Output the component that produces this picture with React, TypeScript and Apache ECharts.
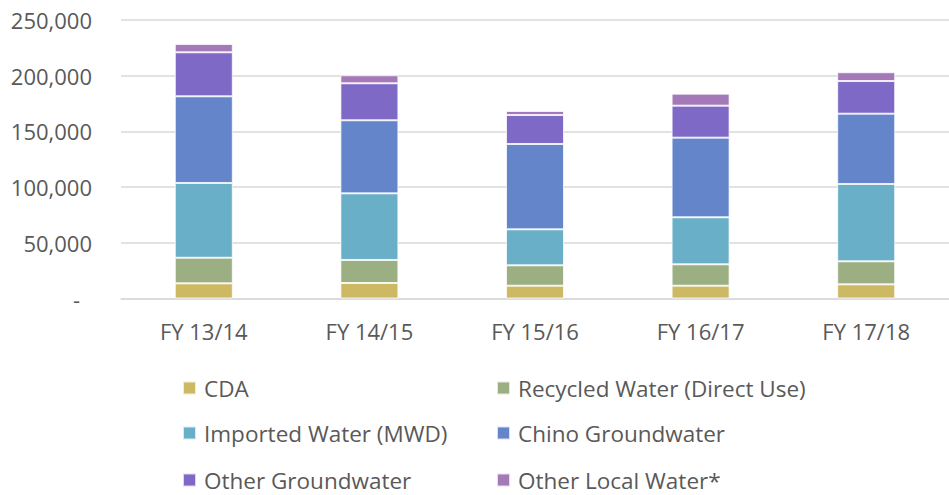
import React, { useEffect, useRef } from "react";
import * as echarts from "echarts";

const categories = ["FY 13/14", "FY 14/15", "FY 15/16", "FY 16/17", "FY 17/18"];
const cda = [13600, 13900, 11500, 11500, 12700];
const recycled = [23000, 20700, 18300, 19200, 20700];
const imported = [67100, 59800, 32300, 42200, 69400];
const chino = [77800, 65600, 76600, 71500, 63100];
const otherGw = [39500, 33200, 26000, 28700, 29300];
const otherLocal = [7500, 7200, 3600, 10800, 7900];

const seriesNames = [
  "CDA",
  "Recycled Water (Direct Use)",
  "Imported Water (MWD)",
  "Chino Groundwater",
  "Other Groundwater",
  "Other Local Water*",
];
const seriesData = [cda, recycled, imported, chino, otherGw, otherLocal];
const colors = ["#CDB864", "#9CAF82", "#6AAFC8", "#6585CB", "#7E6AC6", "#A479B8"];

const FONT = "'Open Sans', 'Noto Sans', sans-serif";
const TEXT_COLOR = "#595959";
const FS = 22;
const LEGEND_FS = 22.5;

// legend slots: [left, top] per series (two columns, three rows)
const legendLefts = [182, 496];
const legendTops = [376, 421, 468];

export default function App() {
  const ref = useRef<HTMLDivElement>(null);
  useEffect(() => {
    if (!ref.current) return;
    const chart = echarts.init(ref.current, undefined, { renderer: "svg" });
    const legendText = {
      color: TEXT_COLOR,
      fontFamily: FONT,
      fontSize: LEGEND_FS,
      lineHeight: 24,
      padding: [0, 0, 0, 3],
    };
    const legends = seriesNames.map((name, i) => ({
      orient: "horizontal",
      left: legendLefts[i % 2],
      top: legendTops[Math.floor(i / 2)],
      padding: 0,
      itemWidth: 13,
      itemHeight: 13,
      icon: "rect",
      textStyle: legendText,
      data: [name],
    }));
    chart.setOption({
      animation: false,
      color: colors,
      grid: { left: 121, right: -10, top: 20, bottom: 196.5, containLabel: false },
      legend: legends,
      xAxis: {
        type: "category",
        data: categories,
        axisLine: { show: true, lineStyle: { color: "#D9D9D9", width: 1.5 } },
        axisTick: { show: false },
        axisLabel: {
          color: TEXT_COLOR,
          fontFamily: FONT,
          fontSize: FS,
          margin: 21,
        },
      },
      yAxis: {
        type: "value",
        min: 0,
        max: 250000,
        interval: 50000,
        axisLine: { show: false },
        axisTick: { show: false },
        splitLine: { lineStyle: { color: "#D9D9D9", width: 1.5 } },
        axisLabel: {
          color: TEXT_COLOR,
          fontFamily: FONT,
          fontSize: FS,
          margin: 29,
          formatter: (v: number) =>
            v === 0 ? "{d|-}" : v.toLocaleString("en-US"),
          rich: {
            d: {
              color: TEXT_COLOR,
              fontFamily: FONT,
              fontSize: FS,
              padding: [0, 12, 0, 0],
            },
          },
        },
      },
      series: seriesNames.map((name, i) => ({
        name,
        type: "bar",
        stack: "total",
        barWidth: 58,
        data: seriesData[i],
        itemStyle: {
          color: colors[i],
          borderColor: "rgba(255,255,255,0.75)",
          borderWidth: 1,
        },
      })),
    });
    return () => chart.dispose();
  }, []);
  return (
    <div
      ref={ref}
      style={{ position: "fixed", left: 0, top: 0, width: 949, height: 495, background: "#fff" }}
    />
  );
}
